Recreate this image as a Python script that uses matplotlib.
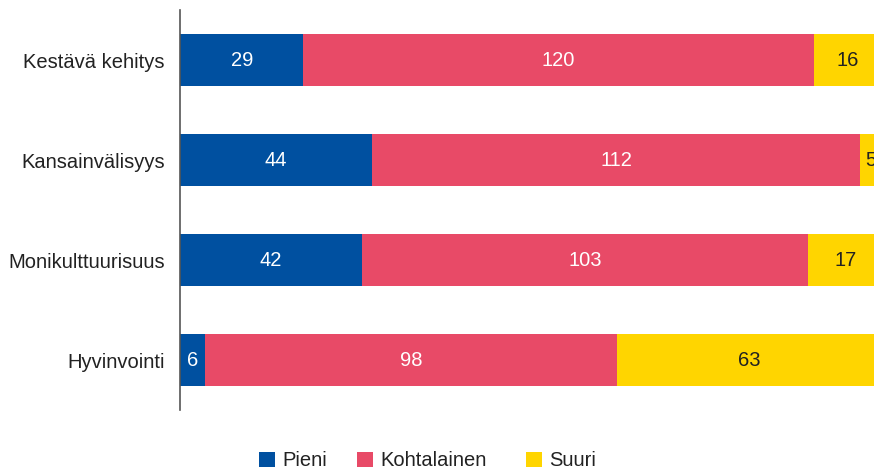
import matplotlib
matplotlib.use("Agg")
import matplotlib.pyplot as plt
import numpy as np

categories = ["Kestävä kehitys", "Kansainvälisyys", "Monikulttuurisuus", "Hyvinvointi"]
series_names = ["Pieni", "Kohtalainen", "Suuri"]
pieni = [29, 44, 42, 6]
kohtalainen = [120, 112, 103, 98]
suuri = [16, 5, 17, 63]

colors = ["#0050A0", "#E84A67", "#FFD500"]
text_colors = ["white", "white", "#222222"]

plt.rcParams['font.family'] = ['Liberation Sans', 'DejaVu Sans']

W, H = 874, 468
fig = plt.figure(figsize=(W/100, H/100), dpi=100)
ax = fig.add_axes([180/W, 1 - 410/H, (W-180)/W, 400/H])

data = np.array([pieni, kohtalainen, suuri], dtype=float)
totals = data.sum(axis=0)
pct = data / totals * 100
y = np.arange(len(categories))
left = np.zeros(len(categories))
handles = []
for i, name in enumerate(series_names):
    bars = ax.barh(y, pct[i], left=left, height=0.52, color=colors[i], label=name)
    handles.append(bars)
    for j in range(len(categories)):
        cx = left[j] + pct[i][j] / 2
        ax.text(cx, y[j], f"{int(data[i][j])}", ha="center", va="center",
                color=text_colors[i], fontsize=14.5)
    left += pct[i]

ax.set_xlim(0, 100 * (W - 180) / 702)
ax.set_ylim(3.5, -0.5)
ax.set_yticks(y)
ax.set_yticklabels(categories, fontsize=14.5, color="#222222")
ax.tick_params(axis="y", length=0, pad=11)
ax.set_xticks([])
for s in ["top", "right", "bottom"]:
    ax.spines[s].set_visible(False)
ax.spines["left"].set_color("#555555")
ax.spines["left"].set_linewidth(1.2)

legend_x = [259, 357, 526]
for h, name, lx in zip(handles, series_names, legend_x):
    leg = fig.legend([h], [name], loc="center left", bbox_to_anchor=(lx/W, 1 - 461/H),
                     frameon=False, fontsize=14.5, handlelength=0.8, handleheight=0.8,
                     handletextpad=0.35, borderaxespad=0, borderpad=0)
    for t in leg.get_texts():
        t.set_color("#222222")

fig.savefig("out.png", dpi=100)
